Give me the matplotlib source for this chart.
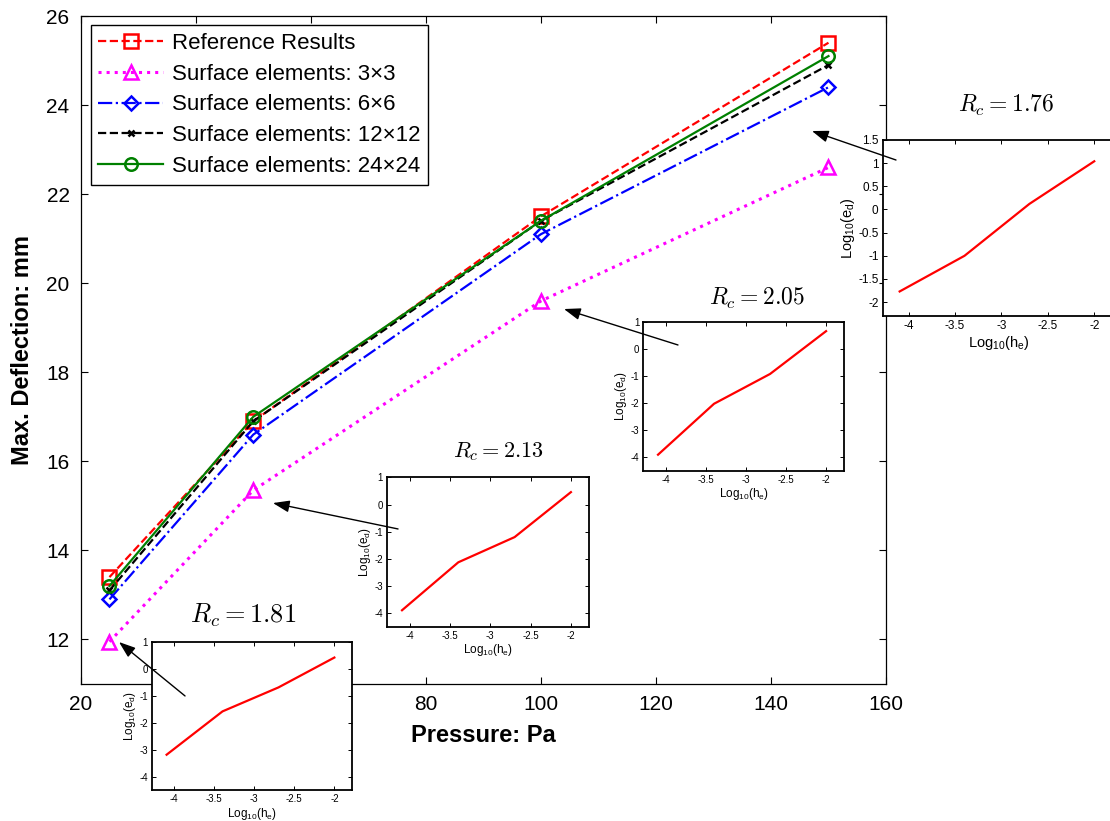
import matplotlib
matplotlib.use("Agg")
import matplotlib.pyplot as plt

plt.rcParams['font.family'] = ['Liberation Sans', 'DejaVu Sans']
plt.rcParams['axes.unicode_minus'] = False
plt.rcParams['mathtext.fontset'] = 'custom'
plt.rcParams['mathtext.rm'] = 'Liberation Sans'
plt.rcParams['mathtext.it'] = 'Liberation Sans:italic'
plt.rcParams['mathtext.bf'] = 'Liberation Sans:bold'

# main curves: max deflection vs pressure
pressure = [25, 50, 100, 150]
ref_results = [13.4, 16.9, 21.5, 25.4]
surf_3x3 = [11.95, 15.35, 19.6, 22.6]
surf_6x6 = [12.9, 16.6, 21.1, 24.4]
surf_12x12 = [13.1, 16.9, 21.4, 24.9]
surf_24x24 = [13.2, 17.0, 21.4, 25.1]

# convergence insets: log10 of element size vs log10 of error
log_h = [-4.097, -3.398, -2.699, -2.0]
log_e_25 = [-3.19, -1.58, -0.69, 0.42]
log_e_50 = [-3.9, -2.13, -1.2, 0.46]
log_e_100 = [-3.91, -2.03, -0.93, 0.65]
log_e_150 = [-1.77, -1.0, 0.12, 1.04]
rc_values = ["1.81", "2.13", "2.05", "1.76"]

fig = plt.figure(figsize=(11.1, 8.21), dpi=100)
ax = fig.add_axes([0.0727, 0.1669, 0.7255, 0.8136])

lw = 1.6
ax.plot(pressure, ref_results, '--', color='red', lw=lw, marker='s', ms=9.5,
        mfc='none', mew=1.8, label='Reference Results')
ax.plot(pressure, surf_3x3, ':', color='magenta', lw=lw + 0.6, marker='^', ms=10,
        mfc='none', mew=1.8, label='Surface elements: 3×3')
ax.plot(pressure, surf_6x6, '-.', color='blue', lw=lw, marker='D', ms=7.5,
        mfc='none', mew=1.8, label='Surface elements: 6×6')
ax.plot(pressure, surf_12x12, '--', color='black', lw=lw, marker='x', ms=5,
        mew=1.8, label='Surface elements: 12×12')
ax.plot(pressure, surf_24x24, '-', color='green', lw=lw, marker='o', ms=9,
        mfc='none', mew=1.8, label='Surface elements: 24×24')

ax.set_xlim(20, 160)
ax.set_ylim(11, 26)
ax.set_xticks(range(20, 161, 20))
ax.set_yticks(range(12, 27, 2))
ax.tick_params(direction='in', length=5, width=0.8, labelsize=15, top=True, right=True, pad=8)
for s in ax.spines.values():
    s.set_linewidth(0.9)
ax.set_xlabel('Pressure: Pa', fontsize=17, fontweight='bold', labelpad=7)
ax.set_ylabel('Max. Deflection: mm', fontsize=17, fontweight='bold', labelpad=9)

leg = ax.legend(loc='upper left', bbox_to_anchor=(0.0124, 0.9865), borderaxespad=0,
                fontsize=16, handlelength=2.9, handletextpad=0.4, labelspacing=0.44,
                borderpad=0.35, fancybox=False, framealpha=1, edgecolor='black')
leg.get_frame().set_linewidth(1.0)

# inset axes (left, bottom, width, height), y-limits, y-ticks, font sizes
inset_specs = [
    ([0.1369, 0.0378, 0.1802, 0.1803], log_e_25, (-4.5, 1), [-4, -3, -2, -1, 0, 1], 7, 8.5),
    ([0.3489, 0.2369, 0.1814, 0.1815], log_e_50, (-4.5, 1), [-4, -3, -2, -1, 0, 1], 7, 8.5),
    ([0.5796, 0.4267, 0.1805, 0.1815], log_e_100, (-4.5, 1), [-4, -3, -2, -1, 0, 1], 7, 8.5),
    ([0.7952, 0.6151, 0.2090, 0.2144], log_e_150, (-2.3, 1.5),
     [-2, -1.5, -1, -0.5, 0, 0.5, 1, 1.5], 8.5, 10.5),
]
for rect, log_e, ylim, yticks, tfs, lfs in inset_specs:
    ia = fig.add_axes(rect, zorder=5, facecolor='white')
    ia.plot(log_h, log_e, color='red', lw=1.6)
    ia.set_xlim(-4.28, -1.78)
    ia.set_ylim(*ylim)
    ia.set_xticks([-4, -3.5, -3, -2.5, -2])
    ia.set_xticklabels(['-4', '-3.5', '-3', '-2.5', '-2'])
    ia.set_yticks(yticks)
    ia.set_yticklabels(['%g' % v for v in yticks])
    ia.tick_params(direction='in', length=3, width=0.7, labelsize=tfs, top=True, right=True, pad=3)
    for s in ia.spines.values():
        s.set_linewidth(1.3)
    ia.set_xlabel(r'Log$_{10}$(h$_{\mathrm{e}}$)', fontsize=lfs, labelpad=1)
    ia.set_ylabel(r'Log$_{10}$(e$_{\mathrm{d}}$)', fontsize=lfs, labelpad=1)

# convergence-rate labels above each inset
rc_pos = [(0.2189, 0.2509), (0.4486, 0.4495), (0.6820, 0.6370), (0.9063, 0.8709)]
rc_size = [19, 16, 17, 17]
for (x, y), val, fs in zip(rc_pos, rc_values, rc_size):
    fig.text(x, y, r'$R_c = %s$' % val, fontsize=fs, math_fontfamily='cm',
             ha='center', va='center', zorder=6)

# arrows from insets to the matching 3x3 points
overlay = fig.add_axes([0, 0, 1, 1], zorder=10)
overlay.set_xlim(0, 1)
overlay.set_ylim(0, 1)
overlay.axis('off')
arrows = [((0.1072, 0.2180), (0.1667, 0.1523)),
          ((0.2459, 0.3873), (0.3586, 0.3557)),
          ((0.5081, 0.6236), (0.6108, 0.5798)),
          ((0.7315, 0.8404), (0.8072, 0.8051))]
for head, tail in arrows:
    overlay.annotate('', xy=head, xytext=tail,
                     arrowprops=dict(arrowstyle='-|>,head_length=0.5,head_width=0.18',
                                     color='black', lw=1.0,
                                     mutation_scale=20, shrinkA=0, shrinkB=0))

fig.savefig('out.png', dpi=100)
